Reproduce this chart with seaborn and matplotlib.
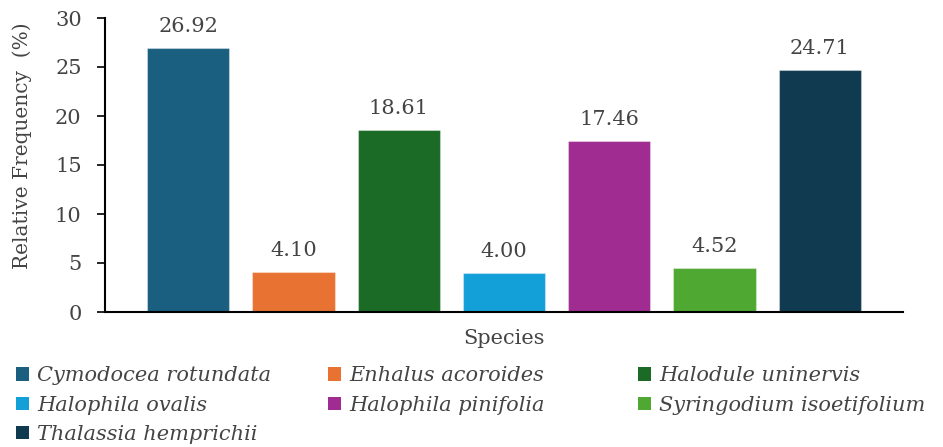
import matplotlib
matplotlib.use("Agg")
import matplotlib.pyplot as plt
import seaborn as sns
import pandas as pd
from matplotlib.patches import Patch

species = ["Cymodocea rotundata", "Enhalus acoroides", "Halodule uninervis",
           "Halophila ovalis", "Halophila pinifolia", "Syringodium isoetifolium",
           "Thalassia hemprichii"]
frequency = [26.92, 4.10, 18.61, 4.00, 17.46, 4.52, 24.71]
colors = ["#1a5e80", "#e87232", "#1b6b27", "#13a0d8", "#a02b91", "#4fa832", "#0f3a4f"]
yticks = [0, 5, 10, 15, 20, 25, 30]

sns.set_style("white")
plt.rcParams["font.family"] = ["DejaVu Serif"]
text_color = "#444444"
fs = 15

df = pd.DataFrame({"Species": species, "Frequency": frequency})

fig = plt.figure(figsize=(9.43, 4.47), dpi=100)
ax = fig.add_axes([105 / 943, 1 - 312 / 447, (903 - 105) / 943, (312 - 18) / 447])

sns.barplot(data=df, x="Species", y="Frequency", hue="Species", palette=colors,
            saturation=1, width=0.78, dodge=False, legend=False, ax=ax,
            edgecolor=(1, 1, 1, 0.35), linewidth=0.8)

for i, v in enumerate(frequency):
    ax.text(i, v + 1.2, f"{v:.2f}", ha="center", va="bottom",
            fontsize=fs, color=text_color)

ax.set_xlim(-0.79, 6.79)
ax.set_ylim(0, 30)
ax.set_yticks(yticks)
ax.set_yticklabels([str(t) for t in yticks], fontsize=fs, color=text_color)
ax.set_xticks([])
ax.tick_params(axis="y", direction="out", length=5.8, width=1.2, color="black", pad=11, left=True)
for side in ["top", "right"]:
    ax.spines[side].set_visible(False)
for side in ["left", "bottom"]:
    ax.spines[side].set_color("black")
    ax.spines[side].set_linewidth(1.5)

ax.set_ylabel("Relative Frequency  (%)", fontsize=14.5, color=text_color)
ax.yaxis.set_label_coords(-0.092, 0.565)
ax.set_xlabel("Species", fontsize=fs, color=text_color, labelpad=12)

# Legend laid out in three columns, filled row by row
col_x = [8, 320, 630]
for c, x0 in enumerate(col_x):
    idx = list(range(c, len(species), 3))
    handles = [Patch(facecolor=colors[i], edgecolor="none") for i in idx]
    leg = fig.legend(handles, [species[i] for i in idx], loc="upper left",
                     bbox_to_anchor=(x0 / 943, 1 - 358 / 447), frameon=False,
                     handlelength=0.6, handleheight=0.6, handletextpad=0.4,
                     labelspacing=0.5, borderaxespad=0,
                     prop={"style": "italic", "size": fs})
    for t in leg.get_texts():
        t.set_color(text_color)

fig.savefig("out.png", dpi=100)
